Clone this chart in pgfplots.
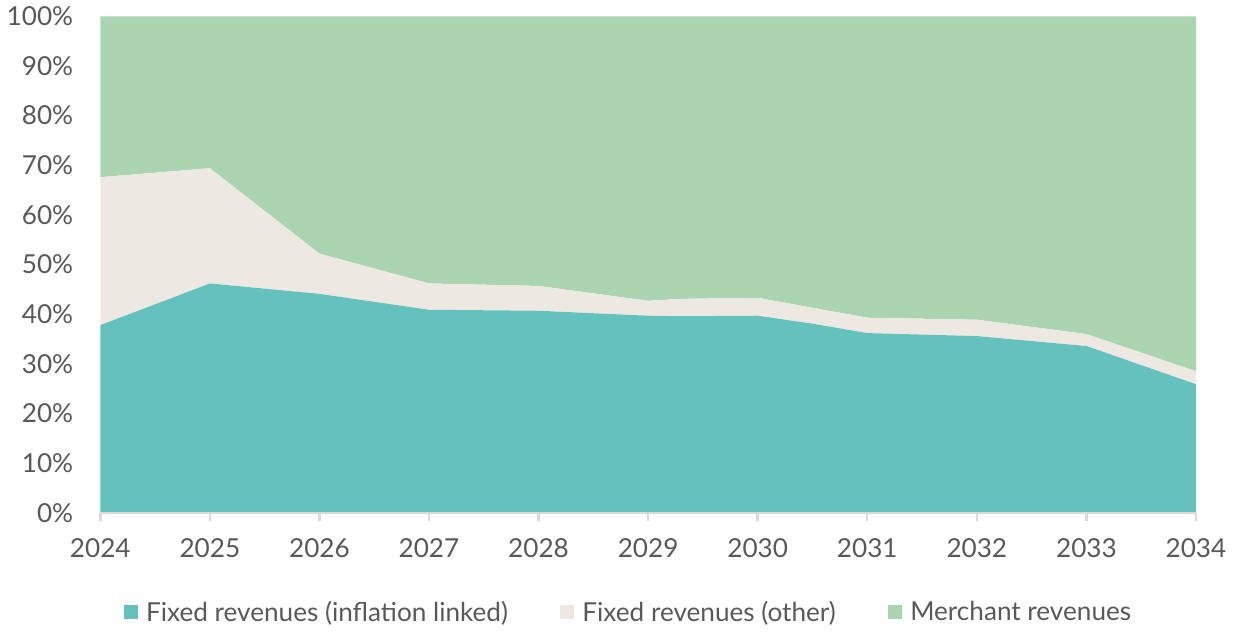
\documentclass[border=0pt]{standalone}
\usepackage{pgfplots}
\pgfplotsset{compat=1.18}
\usepackage{pgfplotstable}
\usepackage{fontspec}
\setmainfont{Lato}

\definecolor{tealfix}{HTML}{64C1BD}
\definecolor{beigefix}{HTML}{EDE8E1}
\definecolor{greenmer}{HTML}{ABD5B0}
\definecolor{labgray}{HTML}{595959}
\definecolor{axgray}{HTML}{D9D9D9}

% year, fixed (inflation linked), fixed (other), merchant
\pgfplotstableread{
x       infl  other  merch
2024    37.8  29.8   32.4
2025    46.2  23.2   30.6
2026    44.1   8.1   47.8
2027    40.9   5.3   53.8
2028    40.7   5.0   54.3
2029    39.7   3.0   57.3
2029.3  39.6   3.5   56.9
2030    39.7   3.6   56.7
2030.5  38.1   3.2   58.7
2031    36.2   3.1   60.7
2032    35.6   3.3   61.1
2033    33.6   2.4   64.0
2034    25.9   2.6   71.5
}\revenues

\begin{document}
\begin{tikzpicture}
\begin{axis}[
    scale only axis,
    width=545pt,
    height=247pt,
    xmin=2024, xmax=2034,
    ymin=0, ymax=100,
    stack plots=y,
    area style,
    axis x line*=bottom,
    axis y line*=left,
    y axis line style={draw=none},
    x axis line style={axgray, line width=1.2pt, -},
    xtick={2024,...,2034},
    ytick={0,10,...,100},
    x tick style={axgray, line width=1.2pt},
    y tick style={draw=none},
    tick align=outside,
    major tick length=4pt,
    xticklabel style={/pgf/number format/1000 sep={}, text=labgray, font=\fontsize{13}{15}\selectfont, yshift=-5pt},
    yticklabel style={text=labgray, font=\fontsize{13}{15}\selectfont, xshift=-6pt},
    yticklabel={\pgfmathprintnumber{\tick}\%},
    /pgf/number format/assume math mode=true,
    clip=false,
    legend style={at={(0.483,-0.16)}, anchor=north, draw=none, fill=none,
        font=\fontsize{13}{15}\selectfont, text=labgray,
        legend columns=3, /tikz/every even column/.append style={column sep=24pt}},
    legend image code/.code={\fill[#1] (0pt,-3.5pt) rectangle (7pt,3.5pt); \path (9pt,0pt);},
]
\addplot[draw=none, fill=tealfix] table[x=x, y=infl] {\revenues} \closedcycle;
\addlegendentry{Fixed revenues (inflation linked)}
\addplot[draw=none, fill=beigefix] table[x=x, y=other] {\revenues} \closedcycle;
\addlegendentry{Fixed revenues (other)}
\addplot[draw=none, fill=greenmer] table[x=x, y=merch] {\revenues} \closedcycle;
\addlegendentry{Merchant revenues}
\end{axis}
\end{tikzpicture}
\end{document}
